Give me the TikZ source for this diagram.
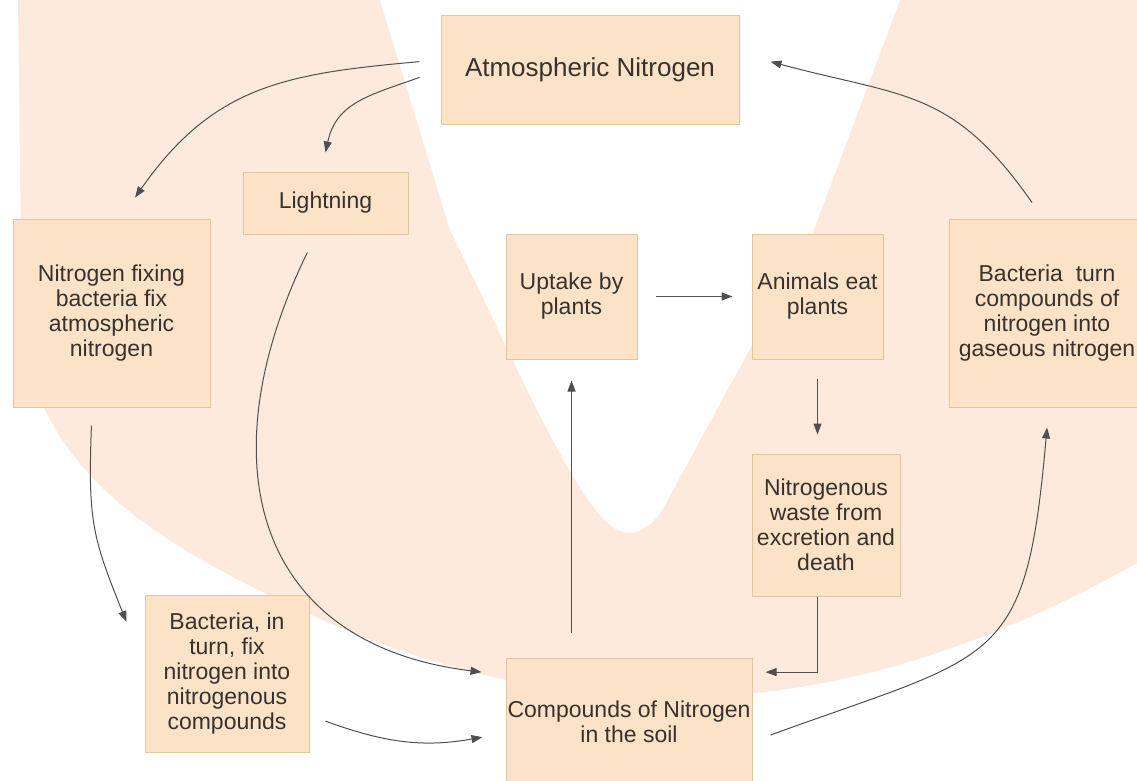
\documentclass[tikz,border=0pt]{standalone}
\usepackage{fontspec}
\setmainfont{Liberation Sans}
\usetikzlibrary{arrows.meta}
\definecolor{boxfill}{RGB}{252,227,199}
\definecolor{boxline}{RGB}{226,200,150}
\definecolor{wmark}{RGB}{253,234,220}
\definecolor{txt}{RGB}{55,50,45}
\definecolor{link}{RGB}{80,80,80}

\begin{document}
\begin{tikzpicture}[
  x=1pt, y=1pt,
  every node/.style={font=\fontsize{23}{25}\selectfont, text=txt},
  cbox/.style={draw=boxline, line width=1pt, fill=boxfill, align=center, inner sep=1pt},
  arr/.style={draw=link, line width=1pt, -{Triangle[length=11pt,width=8pt]}},
]
\clip (0,0) rectangle (1137,-780);
\fill[white] (0,0) rectangle (1137,-780);
% faint logo behind the cycle
\fill[wmark] (18,0) -- (22,-330) .. controls (40,-470) and (150,-540) .. (300,-610)
  .. controls (430,-670) and (560,-700) .. (680,-698)
  .. controls (850,-695) and (1000,-640) .. (1137,-563) -- (1137,0) -- cycle;
\fill[white] (380,0) -- (450,-230) .. controls (500,-330) and (560,-470) .. (600,-515)
  .. controls (620,-540) and (645,-540) .. (665,-505)
  .. controls (700,-440) and (760,-330) .. (810,-240) -- (900,0) -- cycle;

% boxes
\node[cbox, minimum width=298pt, minimum height=109pt, font=\fontsize{26}{28}\selectfont] (atmo) at (590,-69.5) {Atmospheric Nitrogen};
\node[cbox, minimum width=165pt, minimum height=62pt] (light) at (325.5,-203) {Lightning};
\node[cbox, minimum width=197pt, minimum height=188pt] (fixing) at (111.5,-313) {Nitrogen fixing\\bacteria fix\\atmospheric\\nitrogen};
\node[cbox, minimum width=131pt, minimum height=125pt] (uptake) at (571.5,-296.5) {Uptake by\\plants};
\node[cbox, minimum width=131pt, minimum height=125pt] (animals) at (817.5,-296.5) {Animals eat\\plants};
\node[cbox, minimum width=195pt, minimum height=188pt] (bturn) at (1047,-313) {Bacteria\ \ turn\\compounds of\\nitrogen into\\gaseous nitrogen};
\node[cbox, minimum width=148pt, minimum height=142pt] (waste) at (826,-525) {Nitrogenous\\waste from\\excretion and\\death};
\node[cbox, minimum width=164pt, minimum height=157pt] (bact) at (227,-673.5) {Bacteria, in\\turn, fix\\nitrogen into\\nitrogenous\\compounds};
\node[cbox, minimum width=246pt, minimum height=128pt] (comp) at (629,-722) {Compounds of Nitrogen\\in the soil};

% connectors
\draw[arr] ([xshift=-21pt]atmo.177) to[out=185, in=55, looseness=1.1] ([yshift=21pt]fixing.76);
\draw[arr] ([xshift=-21pt]atmo.183) to[out=200, in=78, looseness=1.1] ([yshift=19pt]light.north);
\draw[arr] ([yshift=-18pt]light.240) to[out=244, in=173, looseness=1.3] ([xshift=-24pt]comp.158);
\draw[arr] ([yshift=-18pt]fixing.258) to[out=268, in=112, looseness=1.2] ([xshift=-18pt]bact.148);
\draw[arr] ([xshift=16pt]bact.330) to[out=340, in=190] ([xshift=-23pt]comp.187);
\draw[arr, shorten <=25pt, shorten >=21pt] (uptake.south |- comp.north) -- (uptake.south);
\draw[arr, shorten <=18pt, shorten >=19pt] (uptake.east) -- (animals.west);
\draw[arr, shorten <=19pt, shorten >=19pt] (animals.south) -- (animals.south |- waste.north);
\draw[arr, shorten >=13pt] (waste.south -| animals.south) |- (comp.22);
\draw[arr] ([xshift=18pt]comp.354) to[out=20, in=265, looseness=1.5] ([yshift=-20pt]bturn.south);
\draw[arr] ([yshift=16pt]bturn.99) to[out=125, in=345, looseness=1.2] ([xshift=31pt]atmo.3);
\end{tikzpicture}
\end{document}
